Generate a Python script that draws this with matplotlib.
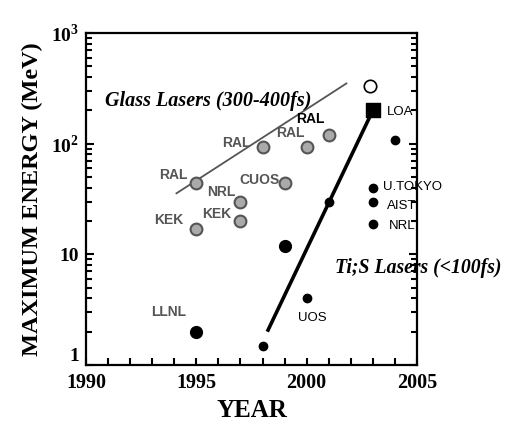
import numpy as np
import matplotlib
matplotlib.use('Agg')
import matplotlib.pyplot as plt
from matplotlib.ticker import FixedLocator, MultipleLocator, LogLocator, NullFormatter

plt.rcParams['mathtext.fontset'] = 'custom'
plt.rcParams['mathtext.rm'] = 'Liberation Serif:bold'
plt.rcParams['mathtext.bf'] = 'Liberation Serif:bold'

# glass lasers (300-400 fs)
glass_year = [1995, 1995, 1997, 1997, 1998, 1999, 2000, 2001]
glass_energy = [44, 17, 30, 20, 94, 44, 94, 120]
glass_label = ['RAL', 'KEK', 'NRL', 'KEK', 'RAL', 'CUOS', 'RAL', 'RAL']
glass_label_x = [1993.94, 1993.73, 1996.15, 1995.92, 1996.83, 1997.88, 1999.24, 2000.15]
glass_label_y = [52, 20.4, 36.8, 23.1, 102, 47, 124, 167]
glass_fit_x = [1994.1, 2001.8]
glass_fit_y = [35.6, 350]

# Ti:S lasers (<100 fs)
big_year = [1995, 1999]
big_energy = [2.0, 12]
small_year = [1998, 2000, 2001, 2003, 2003, 2003, 2004]
small_energy = [1.5, 4.0, 30, 40, 29.5, 18.8, 108]
loa_year, loa_energy = 2003, 200
open_year, open_energy = 2002.85, 330
tis_fit_x = [1998.25, 2003]
tis_fit_y = [2.07, 200]

left_labels = ['LLNL', 'UOS']
left_label_x = [1993.76, 2000.25]
left_label_y = [3.03, 2.64]
right_labels = ['LOA', 'U.TOKYO', 'AIST', 'NRL']
right_label_x = [2003.62, 2003.47, 2003.64, 2003.74]
right_label_y = [194, 40.8, 27.3, 18.0]

fig = plt.figure(figsize=(5.07, 4.25), dpi=100)
ax = fig.add_axes([86/507, 60/425, 331/507, 332/425])

ax.set_xlim(1990, 2005)
ax.set_ylim(1, 1000)
ax.set_yscale('log')

# fit lines
ax.plot(glass_fit_x, glass_fit_y, color='#555555', lw=1.3, zorder=2)
ax.plot(tis_fit_x, tis_fit_y, color='black', lw=2.6, zorder=2)

# points
ax.scatter(glass_year, glass_energy, s=72, facecolor='#aaaaaa', edgecolor='#555555', linewidth=1.5, zorder=3)
ax.scatter(big_year, big_energy, s=72, color='black', zorder=3)
ax.scatter(small_year, small_energy, s=36, color='black', zorder=3)
ax.scatter([loa_year], [loa_energy], s=95, marker='s', color='black', zorder=3)
ax.scatter([open_year], [open_energy], s=80, facecolor='white', edgecolor='black', linewidth=1.2, zorder=3)

sans = 'Liberation Sans'
for lab, x, y in zip(glass_label, glass_label_x, glass_label_y):
    c = 'black' if (lab == 'RAL' and x > 2000) else '#555555'
    ax.text(x, y, lab, ha='center', va='center', fontsize=10, fontweight='bold',
            family=sans, color=c, zorder=4)
for lab, x, y in zip(left_labels, left_label_x, left_label_y):
    c = '#555555' if lab == 'LLNL' else 'black'
    w = 'bold' if lab == 'LLNL' else 'normal'
    ax.text(x, y, lab, ha='center', va='center', fontsize=10 if lab == 'LLNL' else 9.5,
            fontweight=w, family=sans, color=c, zorder=4)
for lab, x, y in zip(right_labels, right_label_x, right_label_y):
    ax.text(x, y, lab, ha='left', va='center', fontsize=9.5, family=sans,
            color='black', zorder=4, clip_on=False)

serif = 'Liberation Serif'
ax.text(1990.86, 243, 'Glass Lasers (300-400fs)', ha='left', va='center',
        fontsize=14.5, family=serif, fontweight='bold', style='italic')
ax.text(2001.28, 7.52, 'Ti;S Lasers (<100fs)', ha='left', va='center',
        fontsize=14.2, family=serif, fontweight='bold', style='italic', clip_on=False)

# axes formatting
for sp in ax.spines.values():
    sp.set_linewidth(1.6)
ax.xaxis.set_major_locator(FixedLocator([1990, 1995, 2000, 2005]))
ax.xaxis.set_minor_locator(MultipleLocator(1))
ax.set_xticklabels(['1990', '1995', '2000', '2005'], family=serif, fontweight='bold', fontsize=14.5)
ax.yaxis.set_major_locator(FixedLocator([1, 10, 100, 1000]))
ax.yaxis.set_minor_locator(LogLocator(base=10, subs=np.arange(2, 10)))
ax.yaxis.set_minor_formatter(NullFormatter())
ylabels = ax.set_yticklabels(['1', '10', r'$10^{2}$', r'$10^{3}$'], family=serif, fontweight='bold', fontsize=14)
ylabels[0].set_verticalalignment('bottom')
ax.tick_params(axis='both', which='both', direction='in', width=1.5)
ax.tick_params(axis='both', which='major', length=6)
ax.tick_params(axis='both', which='minor', length=4)
ax.tick_params(axis='x', which='both', length=5, pad=6)
ax.tick_params(axis='y', which='both', right=True, top=False, pad=5)

ax.set_xlabel('YEAR', family=serif, fontweight='bold', fontsize=18, labelpad=4)
ax.set_ylabel('MAXIMUM ENERGY (MeV)', family=serif, fontweight='bold', fontsize=17.5, labelpad=6)

fig.savefig('out.png', dpi=100)
